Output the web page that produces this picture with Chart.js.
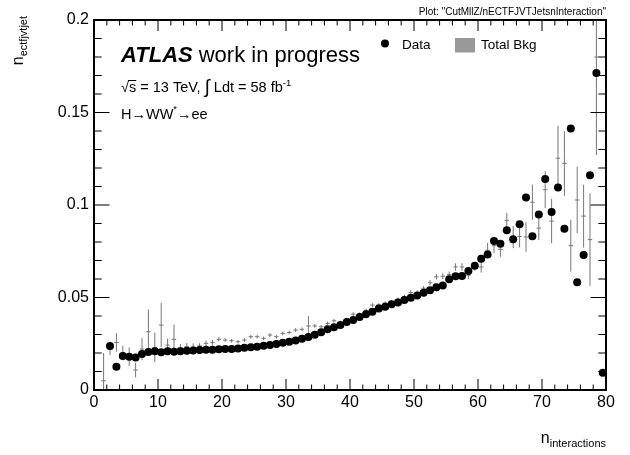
<!DOCTYPE html>
<html>
<head>
<meta charset="utf-8">
<script src="https://cdn.jsdelivr.net/npm/chart.js@4.4.1/dist/chart.umd.min.js"></script>
<style>
  html, body { margin: 0; padding: 0; background: #fff; }
  canvas { display: block; }
</style>
</head>
<body>
<canvas id="c" width="630" height="455"></canvas>
<script>
// bin centres of n_interactions
const binCenters = [
  0.5, 1.5, 2.5, 3.5, 4.5, 5.5, 6.5, 7.5, 8.5, 9.5,
  10.5, 11.5, 12.5, 13.5, 14.5, 15.5, 16.5, 17.5, 18.5, 19.5,
  20.5, 21.5, 22.5, 23.5, 24.5, 25.5, 26.5, 27.5, 28.5, 29.5,
  30.5, 31.5, 32.5, 33.5, 34.5, 35.5, 36.5, 37.5, 38.5, 39.5,
  40.5, 41.5, 42.5, 43.5, 44.5, 45.5, 46.5, 47.5, 48.5, 49.5,
  50.5, 51.5, 52.5, 53.5, 54.5, 55.5, 56.5, 57.5, 58.5, 59.5,
  60.5, 61.5, 62.5, 63.5, 64.5, 65.5, 66.5, 67.5, 68.5, 69.5,
  70.5, 71.5, 72.5, 73.5, 74.5, 75.5, 76.5, 77.5, 78.5, 79.5,
];

// data points (black markers)
const dataVals = [
  null, null, 0.0238, 0.0126, 0.0184, 0.0180, 0.0176, 0.0194, 0.0205, 0.0210,
  0.0204, 0.0210, 0.0207, 0.0210, 0.0212, 0.0214, 0.0216, 0.0217, 0.0218, 0.0220,
  0.0221, 0.0222, 0.0224, 0.0228, 0.0231, 0.0234, 0.0239, 0.0243, 0.0248, 0.0255,
  0.0261, 0.0268, 0.0277, 0.0287, 0.0298, 0.0312, 0.0328, 0.0339, 0.0351, 0.0367,
  0.0378, 0.0395, 0.0409, 0.0423, 0.0440, 0.0450, 0.0463, 0.0473, 0.0487, 0.0499,
  0.0511, 0.0526, 0.0539, 0.0556, 0.0565, 0.0598, 0.0615, 0.0616, 0.0643, 0.0671,
  0.0709, 0.0732, 0.0806, 0.0790, 0.0864, 0.0815, 0.0896, 0.1040, 0.0831, 0.0948,
  0.1140, 0.0962, 0.1095, 0.0872, 0.1413, 0.0583, 0.0730, 0.1161, 0.1714, 0.0093,
];

// total background (grey crosses) and its uncertainty
const bkgVals = [
  null, 0.0050, 0.0220, 0.0257, 0.0200, 0.0180, 0.0108, 0.0221, 0.0315, 0.0230,
  0.0351, 0.0243, 0.0274, 0.0228, 0.0234, 0.0232, 0.0238, 0.0252, 0.0256, 0.0274,
  0.0270, 0.0266, 0.0261, 0.0270, 0.0288, 0.0288, 0.0279, 0.0297, 0.0288, 0.0306,
  0.0311, 0.0324, 0.0328, 0.0346, 0.0346, 0.0342, 0.0360, 0.0374, 0.0365, 0.0381,
  0.0410, 0.0410, 0.0430, 0.0459, 0.0460, 0.0470, 0.0477, 0.0490, 0.0505, 0.0527,
  0.0527, 0.0550, 0.0580, 0.0612, 0.0615, 0.0625, 0.0665, 0.0665, 0.0620, 0.0665,
  0.0665, 0.0755, 0.0780, 0.0760, 0.0917, 0.0827, 0.0830, 0.0827, 0.1015, 0.0875,
  0.1083, 0.0913, 0.1253, 0.1225, 0.0780, 0.1027, 0.0940, 0.0813, 0.1800, null,
];
const bkgErrs = [
  0, 0.0150, 0.0030, 0.0050, 0.0040, 0.0050, 0.0040, 0.0060, 0.0120, 0.0080,
  0.0120, 0.0035, 0.0080, 0.0020, 0.0020, 0.0020, 0.0015, 0.0015, 0.0015, 0.0012,
  0.0010, 0.0010, 0.0010, 0.0010, 0.0010, 0.0010, 0.0010, 0.0010, 0.0010, 0.0010,
  0.0010, 0.0010, 0.0010, 0.0055, 0.0010, 0.0010, 0.0010, 0.0010, 0.0010, 0.0010,
  0.0010, 0.0010, 0.0010, 0.0010, 0.0010, 0.0010, 0.0010, 0.0010, 0.0010, 0.0012,
  0.0012, 0.0012, 0.0015, 0.0015, 0.0015, 0.0015, 0.0020, 0.0020, 0.0020, 0.0020,
  0.0030, 0.0040, 0.0040, 0.0040, 0.0040, 0.0060, 0.0060, 0.0080, 0.0095, 0.0065,
  0.0100, 0.0120, 0.0175, 0.0175, 0.0140, 0.0180, 0.0170, 0.0250, 0.0530, 0,
];

const xTicks = [0, 10, 20, 30, 40, 50, 60, 70, 80];
const yTicks = [0, 0.05, 0.1, 0.15, 0.2];

const FONT = '"Liberation Sans", Arial, Helvetica, sans-serif';

function drawRuns(ctx, x, y, runs) {
  for (const r of runs) {
    ctx.font = `${r.style || ''} ${r.size}px ${FONT}`;
    ctx.fillText(r.t, x, y + (r.dy || 0));
    x += ctx.measureText(r.t).width + (r.gap || 0);
  }
  return x;
}

function runsWidth(ctx, runs) {
  let w = 0;
  for (const r of runs) {
    ctx.font = `${r.style || ''} ${r.size}px ${FONT}`;
    w += ctx.measureText(r.t).width + (r.gap || 0);
  }
  return w;
}

const rootStyle = {
  id: 'rootStyle',
  beforeDatasetsDraw(chart) {
    const ctx = chart.ctx;
    const xs = chart.scales.x, ys = chart.scales.y;
    const a = chart.chartArea;
    ctx.save();
    ctx.beginPath();
    ctx.rect(a.left, a.top, a.right - a.left, a.bottom - a.top);
    ctx.clip();
    ctx.strokeStyle = '#777';
    ctx.lineWidth = 1;
    binCenters.forEach((c, i) => {
      const v = bkgVals[i];
      if (v === null) return;
      const px = xs.getPixelForValue(c);
      const e = bkgErrs[i];
      ctx.beginPath();
      ctx.moveTo(px, ys.getPixelForValue(v - e));
      ctx.lineTo(px, ys.getPixelForValue(v + e));
      ctx.moveTo(xs.getPixelForValue(c - 0.35), ys.getPixelForValue(v));
      ctx.lineTo(xs.getPixelForValue(c + 0.35), ys.getPixelForValue(v));
      ctx.stroke();
    });
    ctx.restore();
  },
  afterDraw(chart) {
    const ctx = chart.ctx;
    const xs = chart.scales.x, ys = chart.scales.y;
    const { left, right, top, bottom } = chart.chartArea;
    ctx.save();

    // ticks, inward on all four sides
    ctx.strokeStyle = '#000';
    ctx.lineWidth = 1;
    ctx.beginPath();
    for (let v = 0; v <= 80; v += 2) {
      const px = xs.getPixelForValue(v);
      const len = v % 10 === 0 ? 11 : 5.5;
      ctx.moveTo(px, bottom); ctx.lineTo(px, bottom - len);
      ctx.moveTo(px, top); ctx.lineTo(px, top + len);
    }
    for (let i = 0; i <= 20; i++) {
      const py = ys.getPixelForValue(i * 0.01);
      const len = i % 5 === 0 ? 15.5 : 7.7;
      ctx.moveTo(left, py); ctx.lineTo(left + len, py);
      ctx.moveTo(right, py); ctx.lineTo(right - len, py);
    }
    ctx.stroke();

    // frame
    ctx.lineWidth = 2;
    ctx.strokeRect(left, top, right - left, bottom - top);

    ctx.fillStyle = '#000';
    ctx.textBaseline = 'alphabetic';
    ctx.textAlign = 'left';

    // ATLAS label
    drawRuns(ctx, 121, 62, [
      { t: 'ATLAS', size: 22, style: 'italic bold', gap: 6 },
      { t: 'work in progress', size: 22 },
    ]);

    // sqrt(s) and luminosity
    let x = 121;
    ctx.font = `14.5px ${FONT}`;
    ctx.fillText('\u221A', x, 92);
    x += ctx.measureText('\u221A').width;
    const sx = x;
    ctx.fillText('s', x, 92);
    x += ctx.measureText('s').width;
    ctx.lineWidth = 1;
    ctx.beginPath();
    ctx.moveTo(sx - 1, 80.5); ctx.lineTo(x, 80.5);
    ctx.stroke();
    drawRuns(ctx, x, 92, [
      { t: ' = 13 TeV, ', size: 14.5 },
      { t: '\u222B', size: 19, dy: 1 },
      { t: ' Ldt = 58 fb', size: 14.5 },
      { t: '-1', size: 9.5, dy: -6 },
    ]);

    drawRuns(ctx, 121, 118.5, [
      { t: 'H\u2192WW', size: 14.5 },
      { t: '*', size: 9.5, dy: -7 },
      { t: '\u2192ee', size: 14.5 },
    ]);

    // legend
    ctx.beginPath();
    ctx.arc(385, 43.5, 4, 0, Math.PI * 2);
    ctx.fill();
    ctx.font = `13.5px ${FONT}`;
    ctx.fillText('Data', 402, 49);
    ctx.fillStyle = '#999';
    ctx.fillRect(455, 38, 20, 14.5);
    ctx.fillStyle = '#000';
    ctx.fillText('Total Bkg', 481, 49);

    // plot name
    ctx.textAlign = 'right';
    ctx.font = `10px ${FONT}`;
    ctx.fillText('Plot: "CutMllZ/nECTFJVTJetsnInteraction"', 606, 15);
    ctx.textAlign = 'left';

    // x axis title
    const xt = [
      { t: 'n', size: 16 },
      { t: 'interactions', size: 11, dy: 4 },
    ];
    drawRuns(ctx, 606 - runsWidth(ctx, xt), 443, xt);

    // y axis title
    const yt = [
      { t: 'n', size: 16 },
      { t: 'ectfjvtjet', size: 11, dy: 4 },
    ];
    ctx.translate(23, 16);
    ctx.rotate(-Math.PI / 2);
    drawRuns(ctx, -runsWidth(ctx, yt), 0, yt);

    ctx.restore();
  },
};

const points = binCenters
  .map((c, i) => ({ x: c, y: dataVals[i] }))
  .filter((p) => p.y !== null);

new Chart(document.getElementById('c'), {
  type: 'scatter',
  data: {
    datasets: [{
      label: 'Data',
      data: points,
      pointRadius: 4,
      pointHoverRadius: 4,
      backgroundColor: '#000',
      borderWidth: 0,
    }],
  },
  options: {
    responsive: false,
    animation: false,
    events: [],
    layout: { padding: { left: 0, right: 24, top: 20, bottom: 0 } },
    plugins: {
      legend: { display: false },
      tooltip: { enabled: false },
    },
    scales: {
      x: {
        type: 'linear',
        min: 0,
        max: 80,
        afterFit(s) { s.height = 65; },
        afterBuildTicks(s) { s.ticks = xTicks.map((v) => ({ value: v })); },
        grid: { display: false, drawTicks: false },
        border: { display: false },
        ticks: {
          color: '#000',
          font: { family: FONT, size: 16 },
          padding: 3,
          maxRotation: 0,
          autoSkip: false,
        },
      },
      y: {
        type: 'linear',
        min: 0,
        max: 0.2,
        afterFit(s) { s.width = 94; },
        afterBuildTicks(s) { s.ticks = yTicks.map((v) => ({ value: v })); },
        grid: { display: false, drawTicks: false },
        border: { display: false },
        ticks: {
          color: '#000',
          font: { family: FONT, size: 16 },
          padding: 5,
          autoSkip: false,
          callback: (v) => String(+Number(v).toFixed(2)),
        },
      },
    },
  },
  plugins: [rootStyle],
});
</script>
</body>
</html>
